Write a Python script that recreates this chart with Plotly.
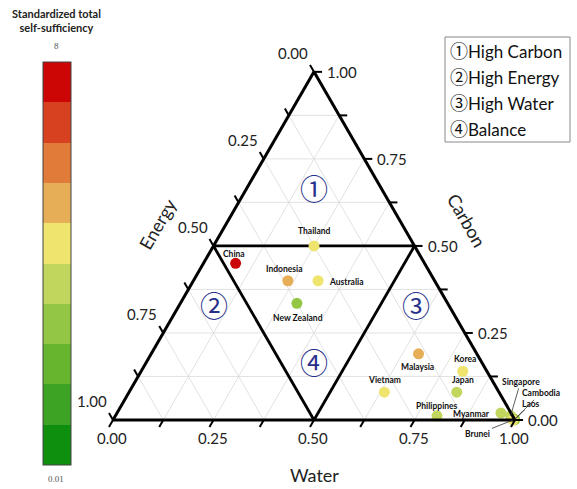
import math
import plotly.graph_objects as go

# ---- data -------------------------------------------------------------
countries = ["China", "Thailand", "Indonesia", "Australia", "New Zealand",
             "Malaysia", "Korea", "Vietnam", "Japan", "Philippines",
             "Myanmar", "Singapore", "Cambodia", "Laos", "Brunei"]
carbon = [0.45, 0.50, 0.40, 0.40, 0.335, 0.19, 0.14, 0.08, 0.08, 0.012,
          0.02, 0.012, 0.002, 0.001, 0.0]
water = [0.08, 0.25, 0.235, 0.31, 0.29, 0.665, 0.80, 0.635, 0.815, 0.80,
         0.955, 0.983, 0.998, 0.999, 0.995]
energy = [round(1 - c - w, 3) for c, w in zip(carbon, water)]
self_sufficiency = [7.6, 4.4, 5.1, 4.3, 2.8, 5.2, 4.2, 4.1, 3.5, 3.4,
                    3.7, 3.9, 3.3, 2.9, 4.5]

ss_min, ss_max = 0.01, 8
# colour bands, lowest value first
band_colors = ["#0E8F0E", "#3CA324", "#67B52F", "#94C645", "#C1D65C",
               "#EEE46E", "#E6AE56", "#E07B3A", "#D8411F", "#CC0505"]

grid_steps = [i / 8 for i in range(9)]
major_ticks = [0.0, 0.25, 0.5, 0.75, 1.0]

regions = ["①", "②", "③", "④"]
legend_names = ["High Carbon", "High Energy", "High Water", "Balance"]
# label anchor of each region as (carbon, energy, water)
region_label_pos = [(2 / 3, 1 / 6, 1 / 6), (0.33, 0.584, 0.086),
                    (0.33, 0.081, 0.589), (0.167, 0.416, 0.417)]

# ---- ternary -> cartesian -------------------------------------------
H = math.sqrt(3) / 2


def to_xy(c, e, w):
    s = c + e + w
    c, w = c / s, w / s
    return w + c / 2, c * H


def segments(pairs):
    xs, ys = [], []
    for p, q in pairs:
        x0, y0 = to_xy(*p)
        x1, y1 = to_xy(*q)
        xs += [x0, x1, None]
        ys += [y0, y1, None]
    return xs, ys


PX = 402.0  # pixels per unit
FONT = "Lato"
CJK = "Noto Sans CJK JP"

fig = go.Figure()

# light grid lines every 0.125
grid_pairs = []
for v in grid_steps[1:-1]:
    grid_pairs.append(((v, 1 - v, 0), (v, 0, 1 - v)))      # constant carbon
    grid_pairs.append(((0, 1 - v, v), (1 - v, 0, v)))      # constant water
    grid_pairs.append(((0, v, 1 - v), (1 - v, v, 0)))      # constant energy
gx, gy = segments(grid_pairs)
fig.add_trace(go.Scatter(x=gx, y=gy, mode="lines", hoverinfo="skip",
                         line=dict(color="#dadada", width=0.8), showlegend=False))

# region boundaries (inner triangle through the edge midpoints)
mids = [(0.5, 0.5, 0), (0.5, 0, 0.5), (0, 0.5, 0.5)]
rx, ry = segments([(mids[0], mids[1]), (mids[1], mids[2]), (mids[2], mids[0])])
fig.add_trace(go.Scatter(x=rx, y=ry, mode="lines", hoverinfo="skip",
                         line=dict(color="black", width=2.8), showlegend=False))

# countries
scale = []
n = len(band_colors)
for i, col in enumerate(band_colors):
    scale += [[i / n, col], [(i + 1) / n, col]]

px_, py_ = zip(*[to_xy(c, e, w) for c, e, w in zip(carbon, energy, water)])
fig.add_trace(go.Scatter(
    x=list(px_), y=list(py_), mode="markers", text=countries,
    hovertemplate="%{text}<extra></extra>", showlegend=False,
    marker=dict(size=11, color=self_sufficiency, colorscale=scale,
                cmin=ss_min, cmax=ss_max, line=dict(width=0),
                colorbar=dict(x=43 / 577, xanchor="left", xref="paper",
                              y=(489 - 263.5) / 489, yanchor="middle", yref="paper",
                              thickness=28, thicknessmode="pixels",
                              len=403, lenmode="pixels", xpad=0, ypad=0,
                              outlinecolor="#444", outlinewidth=1,
                              showticklabels=False, ticks=""))))

# outer triangle
corners = [(1, 0, 0), (0, 1, 0), (0, 0, 1)]
ox, oy = segments([(corners[0], corners[1]), (corners[1], corners[2]),
                   (corners[2], corners[0])])
fig.add_trace(go.Scatter(x=ox, y=oy, mode="lines", hoverinfo="skip",
                         line=dict(color="black", width=3), showlegend=False))

# tick marks
off = 0.02
tx, ty = [], []
for v in grid_steps:
    # left edge: energy
    x, y = to_xy(1 - v, v, 0)
    tx += [x, x - off / 2, None]; ty += [y, y + off * H, None]
    # bottom edge: water
    x, y = to_xy(0, 1 - v, v)
    tx += [x, x - off / 2, None]; ty += [y, y - off * H, None]
    # right edge: carbon
    x, y = to_xy(v, 0, 1 - v)
    tx += [x, x + off, None]; ty += [y, y, None]
fig.add_trace(go.Scatter(x=tx, y=ty, mode="lines", hoverinfo="skip",
                         line=dict(color="black", width=2), showlegend=False))

annotations = []
tick_font = dict(family=FONT, size=15, color="#222")
for v in major_ticks:
    lab = f"{v:.2f}"
    x, y = to_xy(1 - v, v, 0)
    annotations.append(dict(x=x, y=y, text=lab, showarrow=False, font=tick_font,
                            xshift=-21, yshift=19))
    x, y = to_xy(0, 1 - v, v)
    annotations.append(dict(x=x, y=y, text=lab, showarrow=False, font=tick_font,
                            xshift=-1, yshift=-18))
    x, y = to_xy(v, 0, 1 - v)
    annotations.append(dict(x=x, y=y, text=lab, showarrow=False, font=tick_font,
                            xshift=28, yshift=0))

# axis titles
title_font = dict(family=FONT, size=18, color="#222")
x, y = to_xy(0.5, 0.5, 0)
annotations.append(dict(x=x, y=y, text="Energy", textangle=-60, showarrow=False,
                        font=title_font, xshift=-56, yshift=22))
x, y = to_xy(0.5, 0, 0.5)
annotations.append(dict(x=x, y=y, text="Carbon", textangle=60, showarrow=False,
                        font=title_font, xshift=52, yshift=26))
x, y = to_xy(0, 0.5, 0.5)
annotations.append(dict(x=x, y=y, text="Water", showarrow=False,
                        font=title_font, yshift=-55))

# region numbers
for sym, pos in zip(regions, region_label_pos):
    x, y = to_xy(*pos)
    annotations.append(dict(x=x, y=y, text=sym, showarrow=False,
                            font=dict(family=CJK, size=28, color="#27308A")))

# country labels: (xshift, yshift, xanchor) or leader-line offsets
label_font = dict(family=FONT, size=8.5, color="#111")
plain_offsets = {
    "China": (-2, 9, "center"), "Thailand": (0, 15, "center"),
    "Indonesia": (-3, 12, "center"), "Australia": (9, -1, "left"),
    "New Zealand": (1, -15, "center"), "Malaysia": (-1, -13, "center"),
    "Korea": (2, 12, "center"), "Vietnam": (0, 12, "center"),
    "Japan": (6, 12, "center"), "Philippines": (0, 10, "center"),
    "Myanmar": (-9, -1, "right"),
}
leader_offsets = {
    "Singapore": (10, -34), "Cambodia": (26, -26),
    "Laos": (16, -16), "Brunei": (-35, 14),
}
for name, x, y in zip(countries, px_, py_):
    if name in plain_offsets:
        dx, dy, anc = plain_offsets[name]
        annotations.append(dict(x=x, y=y, text=f"<b>{name}</b>", showarrow=False,
                                font=label_font, xshift=dx, yshift=dy, xanchor=anc))
    else:
        ax, ay = leader_offsets[name]
        annotations.append(dict(x=x, y=y, text=f"<b>{name}</b>", showarrow=True,
                                ax=ax, ay=ay, arrowhead=0, arrowwidth=0.8,
                                arrowcolor="#333", standoff=0, font=label_font))

# colour bar captions
cap = dict(xref="paper", yref="paper", xanchor="center", yanchor="middle",
           showarrow=False)
annotations.append(dict(cap, x=56 / 577, y=1 - 20 / 489,
                        text="<b>Standardized total<br>self-sufficiency</b>",
                        font=dict(family=FONT, size=11, color="#222")))
annotations.append(dict(cap, x=56 / 577, y=1 - 46 / 489, text=f"{ss_max:g}",
                        font=dict(family="Liberation Serif", size=9, color="#555")))
annotations.append(dict(cap, x=56 / 577, y=1 - 479 / 489, text=f"{ss_min:g}",
                        font=dict(family="Liberation Serif", size=9, color="#555")))

# region legend box
for i, (sym, name) in enumerate(zip(regions, legend_names)):
    annotations.append(dict(xref="paper", yref="paper", x=448 / 577,
                            y=1 - (50 + 26 * i) / 489, xanchor="left", yanchor="middle",
                            text=f"<span style='font-family:{CJK};font-size:18px'>{sym}</span>{name}",
                            showarrow=False, font=dict(family=FONT, size=17, color="#111")))

fig.update_layout(
    width=577, height=489, margin=dict(l=0, r=0, t=0, b=0),
    paper_bgcolor="white", plot_bgcolor="white",
    xaxis=dict(range=[-113 / PX, 464 / PX], visible=False, fixedrange=True),
    yaxis=dict(range=[-69 / PX, 420 / PX], visible=False, fixedrange=True),
    annotations=annotations,
    shapes=[dict(type="rect", xref="paper", yref="paper",
                 x0=445 / 577, x1=570 / 577, y0=1 - 142 / 489, y1=1 - 37 / 489,
                 line=dict(color="#888", width=1))],
    showlegend=False,
)

fig.write_html("out.html")
